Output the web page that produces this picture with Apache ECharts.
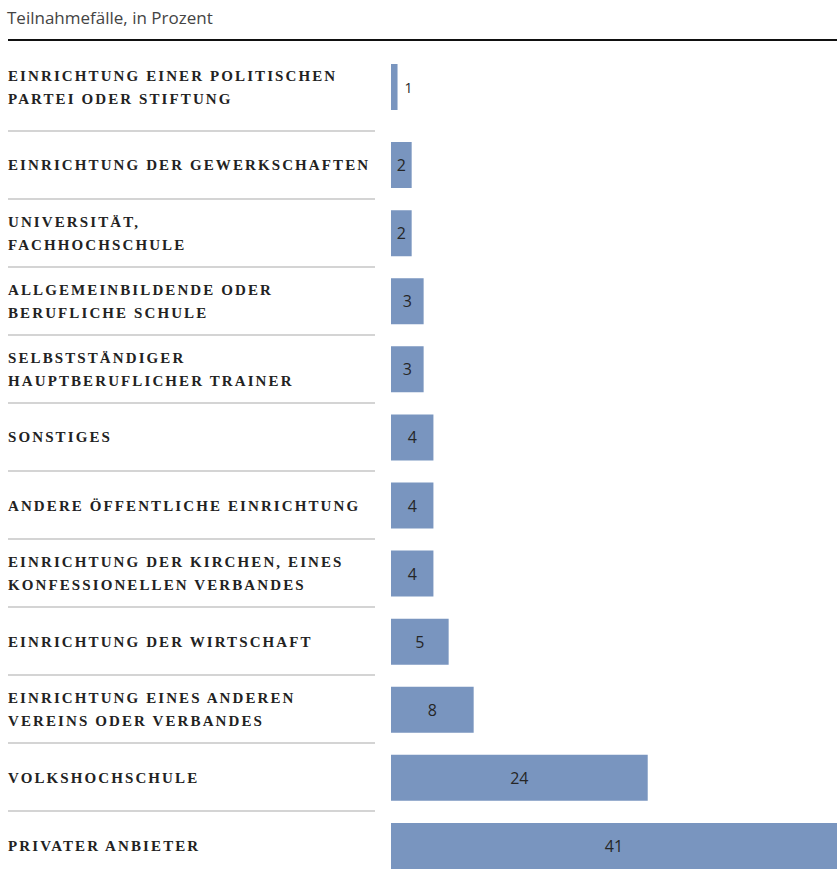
<!DOCTYPE html>
<html>
<head>
<meta charset="utf-8">
<script src="https://cdn.jsdelivr.net/npm/echarts@6/dist/echarts.min.js"></script>
<style>
  html, body { margin: 0; padding: 0; background: #fff; }
  #chart { width: 837px; height: 888px; }
  /* spaced caps for the category names (svg text takes css letter-spacing) */
  #chart text[style*="Liberation Serif"] { letter-spacing: 2.1px; }
</style>
</head>
<body>
<div id="chart"></div>
<script>
// Anbieter, sorted as in the original
const categories = [
  'EINRICHTUNG EINER POLITISCHEN\nPARTEI ODER STIFTUNG',
  'EINRICHTUNG DER GEWERKSCHAFTEN',
  'UNIVERSITÄT,\nFACHHOCHSCHULE',
  'ALLGEMEINBILDENDE ODER\nBERUFLICHE SCHULE',
  'SELBSTSTÄNDIGER\nHAUPTBERUFLICHER TRAINER',
  'SONSTIGES',
  'ANDERE ÖFFENTLICHE EINRICHTUNG',
  'EINRICHTUNG DER KIRCHEN, EINES\nKONFESSIONELLEN VERBANDES',
  'EINRICHTUNG DER WIRTSCHAFT',
  'EINRICHTUNG EINES ANDEREN\nVEREINS ODER VERBANDES',
  'VOLKSHOCHSCHULE',
  'PRIVATER ANBIETER'
]
// Teilnahmefälle in % (bar lengths, labels are rounded)
const values = [0.6, 1.9, 1.9, 3.0, 3.0, 3.9, 3.9, 3.9, 5.3, 7.6, 23.6, 41]
const title = 'Teilnahmefälle, in Prozent'

const barColor = '#7995bf'
const maxVal = 41
const labelFont = 'Liberation Serif'
const numFont = 'Open Sans'

const chart = echarts.init(document.getElementById('chart'), null, { renderer: 'svg' })

const hiddenX = idx => ({
  type: 'value', gridIndex: idx, min: 0, max: maxVal, show: false
})
const catLabel = {
  align: 'left',
  margin: 383,
  fontFamily: labelFont,
  fontWeight: 'bold',
  fontSize: 15,
  lineHeight: 23,
  color: '#222'
}
const valLabel = {
  show: true,
  fontFamily: numFont,
  fontSize: 16,
  color: '#262626',
  formatter: p => Math.round(p.value)
}

const opt = {
  animation: false,
  title: {
    text: title,
    left: 2,
    top: 4,
    textStyle: { fontFamily: numFont, fontWeight: 'normal', fontSize: 17, color: '#444' }
  },
  graphic: [
    {
      type: 'line',
      shape: { x1: 8, y1: 40, x2: 837, y2: 40 },
      style: { stroke: '#111', lineWidth: 2 }
    }
  ],
  grid: [
    { left: 391, right: 0, top: 41, height: 92 },
    { left: 391, right: 0, top: 131, height: 749 },
    { left: 8, width: 367, top: 130.7, height: 680 }
  ],
  xAxis: [hiddenX(0), hiddenX(1), hiddenX(2)],
  yAxis: [
    {
      type: 'category', gridIndex: 0, inverse: true,
      data: categories.slice(0, 1),
      axisLine: { show: false }, axisTick: { show: false },
      axisLabel: catLabel
    },
    {
      type: 'category', gridIndex: 1, inverse: true,
      data: categories.slice(1),
      axisLine: { show: false }, axisTick: { show: false },
      axisLabel: { ...catLabel, interval: 0 }
    },
    {
      // only for the thin separators between the rows
      type: 'value', gridIndex: 2, min: 0, max: 10, interval: 1,
      axisLine: { show: false }, axisTick: { show: false }, axisLabel: { show: false },
      splitLine: { show: true, lineStyle: { color: '#c6c6c6', width: 1.5 } }
    }
  ],
  series: [
    {
      type: 'bar', xAxisIndex: 0, yAxisIndex: 0,
      data: values.slice(0, 1),
      barWidth: 46,
      itemStyle: { color: barColor },
      label: { ...valLabel, fontSize: 14, position: 'right', distance: 7 }
    },
    {
      type: 'bar', xAxisIndex: 1, yAxisIndex: 1,
      data: values.slice(1),
      barWidth: 46,
      itemStyle: { color: barColor },
      label: { ...valLabel, position: 'inside' }
    }
  ]
}
chart.setOption(opt)
</script>
</body>
</html>
